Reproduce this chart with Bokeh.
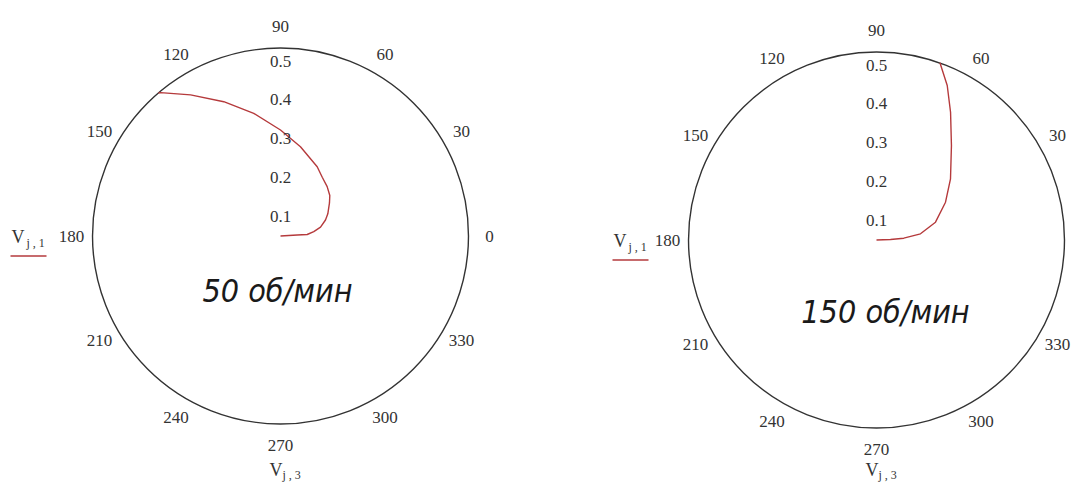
import numpy as np
from bokeh.plotting import figure
from bokeh.models import Range1d, Label
from bokeh.layouts import row
from bokeh.embed import file_html
from bokeh.resources import INLINE
from bokeh.core.properties import value

# ---------------- data ----------------
angle_ticks = [0, 30, 60, 90, 120, 150, 180, 210, 240, 270, 300, 330]
radial_ticks = [0.1, 0.2, 0.3, 0.4, 0.5]
radial_labels = ["0.1", "0.2", "0.3", "0.4", "0.5"]
r_max = 0.485

# 50 rpm : V_j,3 (angle, deg) and V_j,1 (radius)
theta_50 = [0.0, 3.4, 3.2, 7.4, 12.4, 19.6, 25.1, 34.0, 39.4, 46.6, 54.6, 62.1,
            77.4, 90.0, 102.3, 112.9, 122.5, 129.9, 130.5]
r_50 = [0.0, 0.0432, 0.069, 0.0866, 0.1057, 0.1232, 0.1348, 0.1524, 0.1646, 0.1752,
        0.186, 0.2023, 0.2361, 0.2735, 0.324, 0.3761, 0.4316, 0.4822, 0.485]

# 150 rpm
theta_150 = [0.0, 2.0, 3.8, 8.0, 16.8, 28.7, 39.6, 51.6, 59.9, 65.4, 70.3]
r_150 = [0.0, 0.0361, 0.0706, 0.1146, 0.159, 0.203, 0.2478, 0.3113, 0.381, 0.4384, 0.4855]

titles = ["50 об/мин", "150 об/мин"]
y_name = "V"
y_sub = "j , 1"
x_name = "V"
x_sub = "j , 3"

H = 482
SERIF = "Liberation Serif"
TICK_FONT = value(SERIF)
GRAY = "#333333"
RED = "#b53a3c"
S = 387.6  # px per radius unit


def panel(width, cx, cy, theta, r, title, title_dx, title_dy, legend_dx):
    p = figure(width=width, height=H, output_backend="svg", toolbar_location=None,
               x_range=Range1d(-cx / S, (width - cx) / S),
               y_range=Range1d(-(H - cy) / S, cy / S),
               x_axis_location=None, y_axis_location=None, min_border=0)
    p.grid.visible = False
    p.outline_line_color = None
    p.background_fill_color = "white"

    # outer circle
    p.ellipse(x=0, y=0, width=2 * r_max, height=2 * r_max, fill_color=None,
              line_color=GRAY, line_width=1.4)

    # curve
    th = np.radians(np.array(theta))
    rr = np.array(r)
    p.line(rr * np.cos(th), rr * np.sin(th), line_color=RED, line_width=1.4)

    # angular tick labels (only those that fall inside the panel)
    a = np.radians(np.array(angle_ticks))
    R = r_max * 1.112
    ax, ay = R * np.cos(a), R * np.sin(a)
    keep = (ax * S + cx) < width - 12
    p.text(x=ax[keep], y=ay[keep], text=[str(t) for t, k in zip(angle_ticks, keep) if k],
           text_font=TICK_FONT, text_font_size="17px", text_color=GRAY,
           text_align="center", text_baseline="middle")

    # radial tick labels
    p.text(x=[0] * len(radial_ticks), y=radial_ticks, text=radial_labels,
           text_font=TICK_FONT, text_font_size="17px", text_color=GRAY,
           text_align="center", text_baseline="middle", y_offset=19)

    # speed caption
    p.add_layout(Label(x=title_dx / S, y=-title_dy / S, text=title,
                       text_font="DejaVu Sans Condensed", text_font_style="italic",
                       text_font_size="32px", text_color="#1a1a1a",
                       text_align="center", text_baseline="middle"))

    # bottom variable name V_j,3
    vy = -(H - 13 - cy) / S
    p.add_layout(Label(x=0, y=vy, text=x_name, text_font=SERIF,
                       text_font_size="18px", text_color=GRAY, text_align="right",
                       text_baseline="middle", x_offset=2))
    p.add_layout(Label(x=0, y=vy, text=x_sub, text_font=SERIF,
                       text_font_size="12px", text_color=GRAY, text_align="left",
                       text_baseline="middle", x_offset=2, y_offset=-5))

    # left variable name V_j,1 with trace sample
    lx = legend_dx / S
    p.add_layout(Label(x=lx, y=0, text=y_name, text_font=SERIF,
                       text_font_size="18px", text_color=GRAY, text_align="right",
                       text_baseline="middle", y_offset=-1))
    p.add_layout(Label(x=lx, y=0, text=y_sub, text_font=SERIF,
                       text_font_size="12px", text_color=GRAY, text_align="left",
                       text_baseline="middle", x_offset=2, y_offset=-7))
    p.segment(x0=[lx - 14 / S], y0=[-20 / S], x1=[lx + 22 / S], y1=[-20 / S],
              line_color=RED, line_width=1.4)
    return p


left = panel(532, 280, 235.5, theta_50, r_50, titles[0], -3, 54.5, -256)
right = panel(544, 344, 239.5, theta_150, r_150, titles[1], 9, 71.5, -250)

layout = row(left, right, spacing=0)
open("out.html", "w").write(file_html(layout, INLINE))
